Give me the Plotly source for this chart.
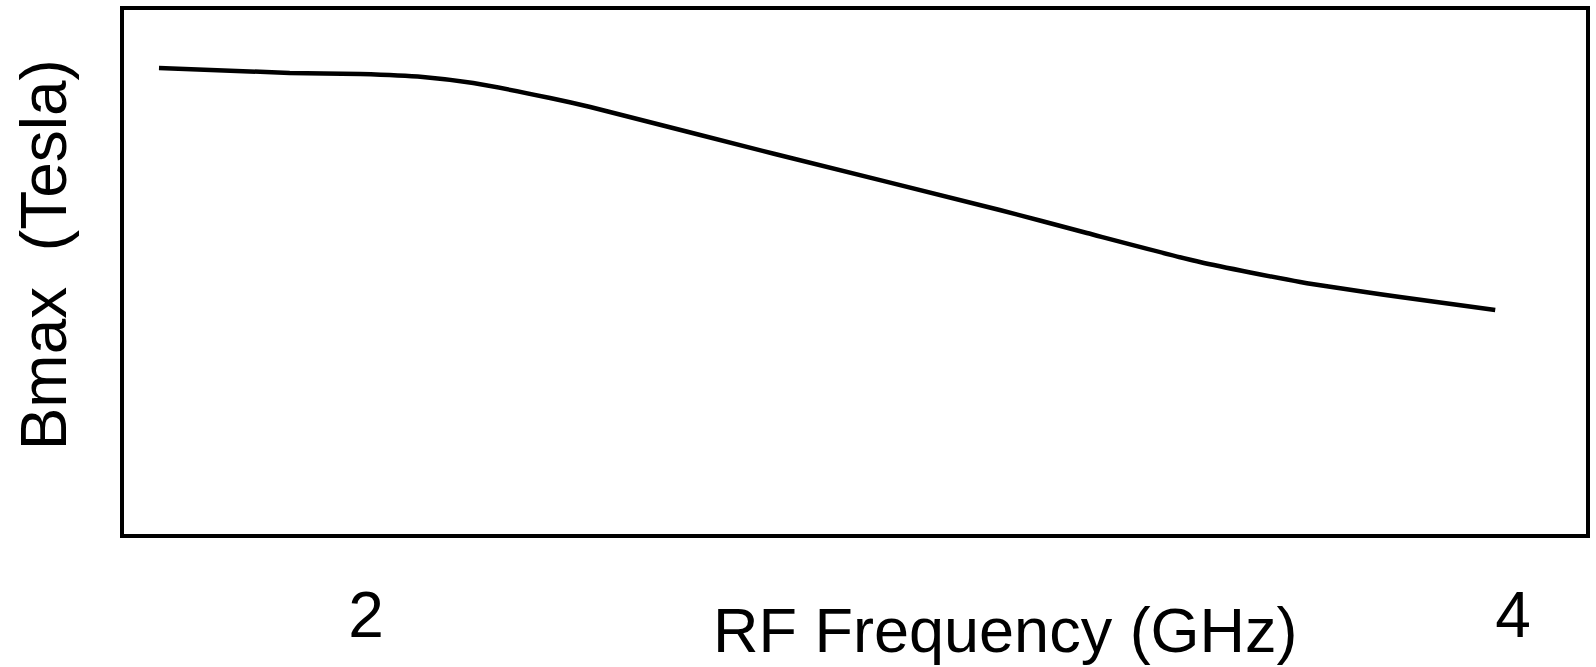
import plotly.graph_objects as go

# RF frequency (GHz) and Bmax (Tesla, arbitrary scale)
freq_ghz = [1.639, 1.867, 1.990, 2.099, 2.187, 2.321, 2.391, 2.713, 3.105, 3.257, 3.454, 3.629, 3.803, 3.969]
bmax_t = [0.4447, 0.4399, 0.4389, 0.4361, 0.4303, 0.4160, 0.4074, 0.3626, 0.3092, 0.2872, 0.2595, 0.2405, 0.2261, 0.2137]
tick_vals = [2, 4]
tick_text = ["2", "4"]

FONT = "Liberation Sans, Arial, sans-serif"

fig = go.Figure()
fig.add_trace(go.Scatter(
    x=freq_ghz, y=bmax_t, mode="lines",
    line=dict(color="black", width=4.5, shape="spline", smoothing=0.6),
    showlegend=False, hoverinfo="skip",
))

fig.update_layout(
    width=1596, height=667,
    margin=dict(l=124, r=10, t=10, b=133),
    paper_bgcolor="white", plot_bgcolor="white",
    font=dict(family=FONT, size=64, color="black"),
    xaxis=dict(
        range=[1.578, 4.1273], showgrid=False, zeroline=False,
        showline=True, linecolor="black", linewidth=4, mirror=True,
        tickvals=tick_vals, ticktext=tick_text, ticks="",
        tickfont=dict(family=FONT, size=64, color="black"),
        ticklabelstandoff=22, automargin=False,
    ),
    yaxis=dict(
        range=[0, 0.5], showgrid=False, zeroline=False,
        showline=True, linecolor="black", linewidth=4, mirror=True,
        showticklabels=False, ticks="", automargin=False,
    ),
    annotations=[
        dict(text="RF Frequency (GHz)", xref="paper", yref="paper",
             x=0.6026, y=-0.183, xanchor="center", yanchor="middle",
             showarrow=False, font=dict(family=FONT, size=63, color="black")),
        dict(text="Bmax  (Tesla)", xref="paper", yref="paper",
             x=-0.0545, y=0.5324, xanchor="center", yanchor="middle",
             textangle=-90, showarrow=False,
             font=dict(family=FONT, size=64, color="black")),
    ],
)

fig.write_html("out.html", config={"displayModeBar": False},
               post_script="document.body.style.margin='0px';")
